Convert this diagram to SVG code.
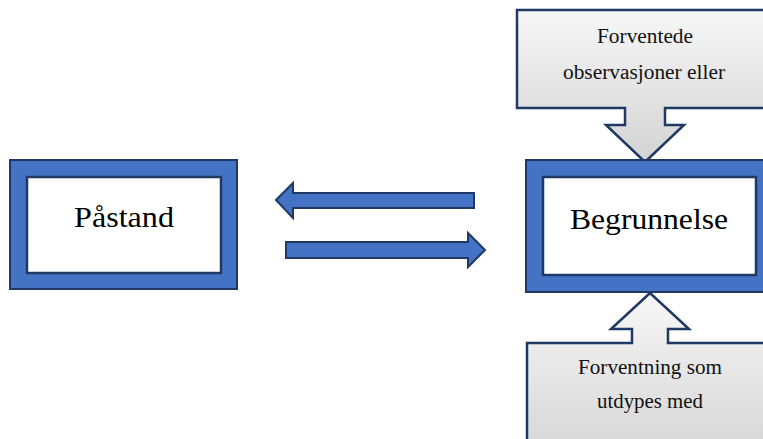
<svg xmlns="http://www.w3.org/2000/svg" width="763" height="439" viewBox="0 0 763 439">
<defs>
<linearGradient id="gTop" x1="0" y1="0" x2="0" y2="1">
<stop offset="0" stop-color="#f7f7f7"/>
<stop offset="1" stop-color="#d3d3d3"/>
</linearGradient>
<linearGradient id="gBot" x1="0" y1="0" x2="0" y2="1">
<stop offset="0" stop-color="#f7f7f7"/>
<stop offset="1" stop-color="#d6d6d6"/>
</linearGradient>
</defs>
<style>
.frame{fill:#4472c4;stroke:#1f3864;stroke-width:2}
.inner{fill:#ffffff;stroke:#1f3864;stroke-width:2.5}
.arrow{fill:#4472c4;stroke:#1f3864;stroke-width:2;stroke-linejoin:miter}
.call{stroke:#1f3864;stroke-width:2.5;stroke-linejoin:miter}
.big{font-family:"Liberation Serif","Times New Roman",serif;font-size:29px;fill:#000;text-anchor:middle}
.small{font-family:"Liberation Serif","Times New Roman",serif;font-size:20px;fill:#111;text-anchor:middle}
</style>
<rect width="763" height="439" fill="#ffffff"/>
<g id="callout-top">
<path class="call" fill="url(#gTop)" d="M517,10 H773 V108 H665 V125 H684 L645,162 L606,125 H625 V108 H517 Z"/>
<text class="small" x="645" y="43" textLength="96" lengthAdjust="spacingAndGlyphs">Forventede</text>
<text class="small" x="644" y="79" textLength="162" lengthAdjust="spacingAndGlyphs">observasjoner eller</text>
</g>
<g id="callout-bottom">
<path class="call" fill="url(#gBot)" d="M527,343 H632 V329 H611 L650,293 L689,329 H668 V343 H773 V450 H527 Z"/>
<text class="small" x="650" y="374" textLength="144" lengthAdjust="spacingAndGlyphs">Forventning som</text>
<text class="small" x="650" y="408" textLength="106" lengthAdjust="spacingAndGlyphs">utdypes med</text>
</g>
<g id="node-pastand">
<rect class="frame" x="10" y="160" width="227" height="129"/>
<rect class="inner" x="27" y="177" width="194" height="96"/>
<text class="big" x="124" y="227" textLength="100" lengthAdjust="spacingAndGlyphs">Påstand</text>
</g>
<g id="node-begrunnelse">
<rect class="frame" x="526" y="160" width="247" height="132"/>
<rect class="inner" x="543" y="177" width="213" height="98"/>
<text class="big" x="649" y="229" textLength="158" lengthAdjust="spacingAndGlyphs">Begrunnelse</text>
</g>
<g id="connectors">
<path class="arrow" d="M276,200 L293,183 V193 H474 V208 H293 V218 Z"/>
<path class="arrow" d="M286,242 H468 V233 L485,250 L468,267 V258 H286 Z"/>
</g>
</svg>
